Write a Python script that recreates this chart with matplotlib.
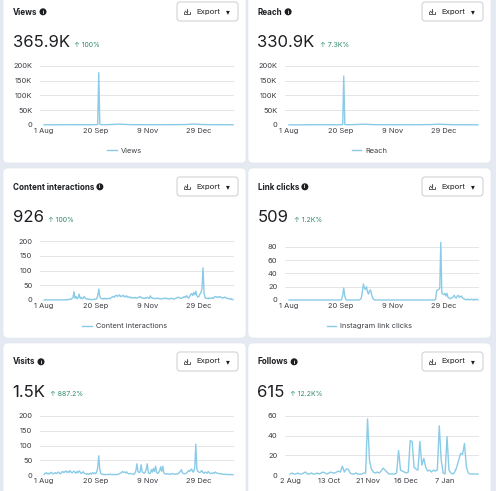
import pandas as pd
import matplotlib
matplotlib.use("Agg")
import matplotlib.pyplot as plt
from matplotlib.patches import FancyBboxPatch, Circle
from matplotlib.ticker import FuncFormatter

# ---- data ----
days = pd.date_range("2023-08-01", "2024-01-31", freq="D")
date_ticks = pd.to_datetime(["2023-08-01", "2023-09-20", "2023-11-09", "2023-12-29"])
date_tick_labels = ["1 Aug", "20 Sep", "9 Nov", "29 Dec"]

views_k = [
    0.8, 0.6, 0.7, 0.9, 0.8, 0.6, 0.7, 0.8, 0.9, 0.7,
    0.6, 0.8, 0.7, 0.9, 1.0, 0.8, 0.7, 0.9, 1.1, 0.8,
    0.9, 1.0, 0.8, 1.2, 1.0, 0.9, 1.1, 1.3, 1.2, 1.0,
    1.1, 1.0, 1.2, 0.9, 1.0, 1.1, 0.9, 1.0, 0.8, 0.9,
    1.0, 0.9, 0.8, 1.0, 0.9, 0.8, 0.7, 0.9, 1.0, 1.2,
    1.2, 1.4, 1.8, 177.0, 2.5, 1.3, 1.1, 1.0, 1.2, 1.0,
    1.1, 1.3, 1.2, 1.4, 1.5, 1.6, 1.8, 2.0, 2.2, 2.4,
    2.6, 2.8, 2.7, 3.0, 2.6, 2.9, 2.5, 2.2, 2.0, 1.8,
    1.6, 1.4, 1.5, 1.3, 1.2, 1.4, 1.3, 1.1, 1.2, 1.0,
    1.1, 1.2, 1.0, 0.9, 1.1, 1.0, 1.2, 1.1, 0.9, 1.0,
    1.0, 0.9, 1.1, 1.0, 0.8, 0.9, 1.0, 1.1, 0.9, 1.0,
    1.1, 1.0, 0.9, 1.2, 1.0, 1.1, 0.9, 1.0, 1.2, 1.1,
    1.0, 1.2, 1.1, 1.3, 1.0, 1.1, 1.2, 1.0, 1.4, 1.2,
    1.1, 1.3, 1.5, 1.2, 1.4, 1.6, 1.3, 1.5, 1.8, 1.6,
    1.9, 2.2, 2.5, 3.0, 3.4, 3.0, 2.6, 2.2, 2.8, 2.4,
    2.0, 1.8, 1.6, 1.5, 1.9, 1.4, 1.3, 1.2, 1.4, 1.1,
    1.2, 1.0, 1.1, 1.3, 1.0, 0.9, 1.1, 1.0, 0.9, 1.0,
    0.8, 0.9, 1.0, 0.8, 0.7, 0.9, 0.8, 0.7, 0.8, 0.9,
    0.7, 0.8, 0.6, 0.7,
]

reach_k = [
    0.7, 0.5, 0.6, 0.8, 0.7, 0.5, 0.6, 0.7, 0.8, 0.6,
    0.5, 0.7, 0.6, 0.8, 0.9, 0.7, 0.6, 0.8, 1.0, 0.7,
    0.8, 0.9, 0.7, 1.1, 0.9, 0.8, 1.0, 1.2, 1.1, 0.9,
    1.0, 0.9, 1.1, 0.8, 0.9, 1.0, 0.8, 0.9, 0.7, 0.8,
    0.9, 0.8, 0.7, 0.9, 0.8, 0.7, 0.6, 0.8, 0.9, 1.1,
    1.1, 1.3, 1.6, 166.0, 2.2, 1.2, 1.0, 0.9, 1.1, 0.9,
    1.0, 1.2, 1.1, 1.3, 1.4, 1.5, 1.7, 1.9, 2.0, 2.2,
    2.4, 2.5, 2.4, 2.7, 2.3, 2.6, 2.2, 2.0, 1.8, 1.6,
    1.4, 1.3, 1.4, 1.2, 1.1, 1.3, 1.2, 1.0, 1.1, 0.9,
    1.0, 1.1, 0.9, 0.8, 1.0, 0.9, 1.1, 1.0, 0.8, 0.9,
    0.9, 0.8, 1.0, 0.9, 0.7, 0.8, 0.9, 1.0, 0.8, 0.9,
    1.0, 0.9, 0.8, 1.1, 0.9, 1.0, 0.8, 0.9, 1.1, 1.0,
    0.9, 1.1, 1.0, 1.2, 0.9, 1.0, 1.1, 0.9, 1.3, 1.1,
    1.0, 1.2, 1.4, 1.1, 1.3, 1.5, 1.2, 1.4, 1.7, 1.5,
    1.8, 2.0, 2.3, 2.8, 3.1, 2.8, 2.4, 2.0, 2.6, 2.2,
    1.8, 1.6, 1.5, 1.4, 1.7, 1.3, 1.2, 1.1, 1.3, 1.0,
    1.1, 0.9, 1.0, 1.2, 0.9, 0.8, 1.0, 0.9, 0.8, 0.9,
    0.7, 0.8, 0.9, 0.7, 0.6, 0.8, 0.7, 0.6, 0.7, 0.8,
    0.6, 0.7, 0.5, 0.6,
]

content_interactions = [
    0, 0, 1, 0, 0, 1, 0, 0, 0, 1,
    0, 0, 1, 0, 0, 0, 1, 0, 0, 1,
    0, 1, 0, 2, 1, 3, 2, 5, 8, 28,
    6, 12, 4, 8, 20, 5, 9, 4, 7, 12,
    6, 3, 4, 2, 3, 1, 2, 1, 2, 3,
    2, 5, 14, 37, 12, 6, 4, 5, 3, 6,
    4, 3, 5, 6, 4, 8, 10, 12, 9, 14,
    16, 12, 15, 17, 11, 14, 13, 16, 10, 12,
    14, 9, 11, 8, 10, 6, 8, 7, 9, 6,
    8, 7, 10, 12, 9, 6, 7, 5, 8, 6,
    9, 7, 5, 14, 8, 6, 7, 5, 4, 6,
    5, 6, 4, 3, 5, 4, 6, 5, 7, 4,
    5, 3, 4, 6, 5, 4, 3, 5, 6, 8,
    10, 7, 6, 5, 8, 9, 12, 8, 15, 10,
    6, 12, 18, 22, 15, 25, 18, 30, 14, 10,
    12, 20, 25, 40, 109, 22, 8, 5, 6, 4,
    7, 5, 6, 8, 5, 10, 12, 9, 11, 8,
    12, 10, 9, 6, 8, 10, 7, 5, 6, 4,
    3, 5, 2, 1,
]

link_clicks = [
    0, 0, 0, 0, 0, 0, 0, 0, 0, 0,
    0, 0, 0, 0, 0, 0, 0, 0, 0, 0,
    0, 0, 0, 0, 0, 0, 0, 0, 0, 0,
    0, 0, 0, 0, 0, 0, 0, 0, 0, 0,
    0, 0, 0, 0, 0, 0, 0, 0, 0, 0,
    0, 1, 7, 18, 6, 1, 0, 0, 0, 0,
    0, 0, 0, 0, 0, 0, 0, 0, 0, 1,
    3, 12, 24, 18, 16, 20, 12, 9, 14, 15,
    8, 3, 1, 0, 0, 0, 0, 0, 0, 0,
    0, 0, 0, 0, 0, 0, 0, 0, 0, 0,
    0, 0, 0, 0, 0, 0, 0, 0, 0, 0,
    0, 0, 0, 0, 0, 0, 0, 0, 0, 0,
    0, 0, 0, 0, 0, 0, 0, 0, 0, 0,
    0, 0, 0, 0, 0, 0, 0, 0, 0, 0,
    0, 0, 1, 14, 15, 16, 18, 87, 10, 9,
    8, 10, 6, 10, 4, 3, 2, 3, 3, 5,
    7, 4, 3, 6, 7, 4, 5, 6, 3, 2,
    1, 1, 0, 1, 1, 0, 1, 1, 0, 1,
    0, 1, 1, 0,
]

visits = [
    2, 5, 8, 4, 6, 3, 7, 9, 5, 4,
    6, 8, 5, 7, 10, 6, 4, 9, 12, 8,
    10, 14, 9, 12, 8, 15, 11, 7, 10, 13,
    9, 6, 12, 8, 14, 10, 5, 8, 11, 6,
    4, 3, 5, 2, 4, 6, 3, 8, 5, 7,
    4, 10, 25, 65, 20, 5, 3, 2, 1, 2,
    1, 2, 2, 1, 3, 2, 1, 2, 1, 2,
    2, 1, 3, 4, 6, 8, 12, 9, 10, 7,
    11, 6, 4, 5, 5, 4, 3, 2, 6, 15,
    38, 12, 8, 10, 35, 12, 8, 6, 10, 20,
    38, 8, 5, 6, 18, 10, 22, 12, 30, 10,
    5, 8, 15, 28, 12, 30, 8, 4, 3, 5,
    3, 4, 2, 3, 5, 4, 3, 2, 4, 3,
    5, 8, 12, 18, 8, 5, 4, 5, 6, 10,
    15, 12, 18, 20, 10, 12, 25, 105, 20, 12,
    10, 8, 12, 15, 8, 6, 10, 8, 6, 12,
    8, 5, 6, 5, 8, 6, 10, 7, 6, 5,
    4, 5, 3, 3, 2, 3, 2, 2, 1, 2,
    1, 2, 1, 1,
]

follows = [
    1, 2, 1, 1, 2, 1, 1, 2, 3, 1,
    1, 2, 1, 1, 2, 1, 2, 3, 2, 1,
    2, 3, 2, 2, 3, 4, 3, 9, 3, 6,
    6, 2, 1, 1, 2, 1, 1, 1, 2, 2,
    57, 15, 6, 3, 2, 3, 2, 4, 7, 5,
    3, 1, 1, 1, 1, 2, 25, 5, 4, 3,
    2, 3, 35, 34, 8, 6, 5, 34, 10, 17,
    8, 4, 5, 3, 5, 4, 5, 50, 15, 2,
    1, 39, 5, 2, 1, 3, 8, 15, 22, 21,
    32, 8, 2, 1, 1, 1, 1, 1,
]
follows_tick_pos = [0, 20, 40, 60, 80]
follows_tick_labels = ["2 Aug", "13 Oct", "21 Nov", "16 Dec", "7 Jan"]

# ---- styling ----
W, H = 496, 491
BG = "#e5e9f2"
LINE = "#8acbe7"
GRID = "#e3e5e8"
TXT = "#1c1e21"
TICK = "#3a3d42"
GREEN = "#2f8a6b"
FONT = ["Inter", "DejaVu Sans"]
plt.rcParams["font.family"] = FONT

fig = plt.figure(figsize=(W / 100, H / 100), dpi=100, facecolor=BG)
bg = fig.add_axes([0, 0, 1, 1], zorder=0)
bg.set_xlim(0, W)
bg.set_ylim(H, 0)
bg.axis("off")
renderer = fig.canvas.get_renderer()


def right_px(artist):
    # right edge of a text, in the pixel units of the background axes
    return artist.get_window_extent(renderer).x1 * W / fig.bbox.width


def k_fmt(v, _):
    return "0" if v == 0 else f"{v:g}K"


def draw_panel(x0, y0, title, total, change, x, y, ylim, yticks, legend,
               fmt=None, xticks=None, xlabels=None, xlim=None):
    bg.add_patch(FancyBboxPatch((x0, y0), 243, 170,
                                boxstyle="round,pad=0,rounding_size=5",
                                fc="white", ec="#e0e4ea", lw=0.4))
    t = bg.text(x0 + 10, y0 + 19, title, fontsize=5.8, fontweight="bold",
                color=TXT, va="center", ha="left")
    cx = right_px(t) + 5.5
    bg.add_patch(Circle((cx, y0 + 18.8), 2.8, color=TXT))
    bg.text(cx, y0 + 19, "i", fontsize=3.6, fontweight="bold",
            color="white", ha="center", va="center")

    # export button
    bg.add_patch(FancyBboxPatch((x0 + 174, y0 + 9), 61, 19,
                                boxstyle="round,pad=0,rounding_size=3",
                                fc="white", ec="#c9ccd1", lw=0.7))
    ix, iy = x0 + 183.5, y0 + 18.5
    bg.plot([ix, ix], [iy - 3, iy + 1], color="#444", lw=0.6)
    bg.plot([ix - 1.4, ix, ix + 1.4], [iy - 0.4, iy + 1, iy - 0.4], color="#444", lw=0.6)
    bg.plot([ix - 3, ix - 3, ix + 3, ix + 3], [iy + 0.8, iy + 2.8, iy + 2.8, iy + 0.8],
            color="#444", lw=0.6)
    bg.text(x0 + 193, y0 + 18.5, "Export", fontsize=5.6, color=TXT, va="center")
    bg.text(x0 + 225, y0 + 18.8, "▾", fontsize=5.5, color=TXT, va="center",
            ha="center", family="DejaVu Sans")

    n = bg.text(x0 + 9.5, y0 + 54, total, fontsize=12, color=TXT, va="baseline")
    bg.text(right_px(n) + 5, y0 + 53.5, "↑ " + change, fontsize=5.0, color=GREEN,
            va="baseline", family=FONT)

    left, right, top, bottom = x0 + 37, x0 + 231, y0 + 73, y0 + 132
    ax = fig.add_axes([left / W, 1 - bottom / H, (right - left) / W, (bottom - top) / H],
                      zorder=2)
    ax.patch.set_alpha(0)
    line, = ax.plot(x, y, color=LINE, lw=1.0, clip_on=False, label=legend)
    ax.set_ylim(*ylim)
    ax.set_yticks(yticks)
    if fmt:
        ax.yaxis.set_major_formatter(FuncFormatter(fmt))
    ax.set_xlim(*xlim)
    ax.set_xticks(xticks)
    ax.set_xticklabels(xlabels)
    ax.grid(axis="y", color=GRID, lw=0.7)
    ax.set_axisbelow(True)
    for s in ax.spines.values():
        s.set_visible(False)
    ax.tick_params(length=0, labelsize=5.4, colors=TICK)
    ax.tick_params(axis="x", pad=2.5)
    ax.tick_params(axis="y", pad=5.5)
    if legend:
        fig.legend(handles=[line], loc="center",
                   bbox_to_anchor=((x0 + 121.5) / W, 1 - (y0 + 158) / H),
                   frameon=False, fontsize=5.3, handlelength=1.3,
                   handletextpad=0.6, labelcolor=TICK)
    return ax


date_lim = (days[0] - pd.Timedelta(days=3.9), days[-1] + pd.Timedelta(days=1))
date_kw = dict(xticks=date_ticks, xlabels=date_tick_labels, xlim=date_lim)

draw_panel(3, -7, "Views", "365.9K", "100%", days, views_k, (0, 200),
           [0, 50, 100, 150, 200], "Views", fmt=k_fmt, **date_kw)
draw_panel(248, -7, "Reach", "330.9K", "7.3K%", days, reach_k, (0, 200),
           [0, 50, 100, 150, 200], "Reach", fmt=k_fmt, **date_kw)
draw_panel(3, 168, "Content interactions", "926", "100%", days, content_interactions,
           (0, 200), [0, 50, 100, 150, 200], "Content interactions", **date_kw)
draw_panel(248, 168, "Link clicks", "509", "1.2K%", days, link_clicks,
           (0, 89), [0, 20, 40, 60, 80], "Instagram link clicks", **date_kw)
draw_panel(3, 343, "Visits", "1.5K", "887.2%", days, visits,
           (0, 200), [0, 50, 100, 150, 200], None, **date_kw)
draw_panel(248, 343, "Follows", "615", "12.2K%", range(len(follows)), follows,
           (0, 60), [0, 20, 40, 60], None, xticks=follows_tick_pos,
           xlabels=follows_tick_labels, xlim=(-2.6, len(follows) - 0.5))

fig.savefig("out.png", dpi=100, facecolor=BG)
